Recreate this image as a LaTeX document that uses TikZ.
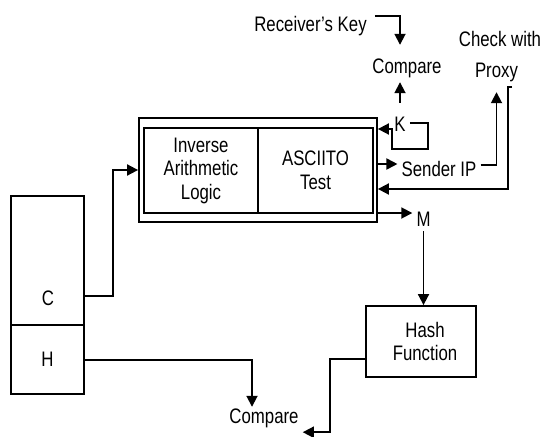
\documentclass[tikz,border=0pt]{standalone}
\usepackage{fontspec}
\setmainfont{Liberation Sans}[FakeStretch=0.8]
\usepackage{tikz}
\usetikzlibrary{arrows.meta}
\definecolor{ink}{HTML}{000000}
\tikzset{
  base/.style={draw=ink, line width=1.8pt},
  arr/.style={base, -{Triangle[length=11pt,width=11pt]}},
  blk/.style={base, rectangle, inner sep=0pt, align=center, text=ink, font=\fontsize{21}{23.5}\selectfont},
  lab/.style={text=ink, inner xsep=4pt, inner ysep=0.5pt, text height=15.5pt, text depth=4.5pt, font=\fontsize{21}{23.5}\selectfont},
}

\begin{document}
\begin{tikzpicture}[x=1pt, y=-1pt]
\useasboundingbox (0,0) rectangle (545,436);

% received blocks
\node[blk, minimum width=73pt, minimum height=129pt] (cbox) at (47.5,260.5) {};
\node[blk, minimum width=73pt, minimum height=69pt] (hbox) at (47.5,359.5) {H};
\node[lab] (clab) at (48,299.5) {C};

% decryption unit
\node[blk, minimum width=238pt, minimum height=104pt] (outer) at (258,170) {};
\node[blk, minimum width=114pt, minimum height=85pt] (ial) at (201,170.5) {Inverse\\Arithmetic\\Logic};
\node[blk, minimum width=115pt, minimum height=85pt] (asc) at (315.5,170.5) {ASCIITO\\Test};
\node[blk, minimum width=110pt, minimum height=71pt] (hash) at (421,341.5) {\hspace{8pt}Hash\\\hspace{8pt}Function};

% labels
\node[lab] (rkey) at (310.5,26.5) {Receiver’s Key};
\node[lab] (cmptop) at (407,68.5) {Compare};
\node[lab] (chk) at (500,41.5) {Check with};
\node[lab] (prox) at (496.5,71.5) {Proxy};
\node[lab] (K) at (400,125.5) {K};
\node[lab] (sip) at (439,170.5) {Sender IP};
\node[lab] (M) at (423.5,220.5) {M};
\node[lab] (cmpbot) at (264,417.5) {Compare};

% C and H
\draw[arr] (cbox.east |- 0,296) -- ++(28,0) |- (outer.west);
\draw[arr] (hbox.east |- 0,360) -| ([xshift=-12pt]cmpbot.north);
\draw[arr] (hash.west |- 0,359) -- ++(-35,0) |- ([yshift=-4pt]cmpbot.south east);

% key
\draw[arr] (K.east |- 0,123) -- ++(18,0) |- ++(-36,26) -- ++(0,-20) -- (outer.east |- 0,129);
\draw[arr, shorten <=12pt, shorten >=3pt] (K.north) -- (K.north |- cmptop.south);
\draw[arr, shorten <=4pt, shorten >=13pt] (rkey.north east) -| (K.north |- cmptop.north);

% sender IP and proxy
\draw[arr] (outer.east |- 0,164) -- (sip.west |- 0,164);
\draw[arr, shorten >=10pt] (sip.east |- 0,165) -| (prox.south);
\coordinate (pxo) at (512,87);
\draw[arr] (pxo) -- ++(-4,0) |- (outer.east |- 0,189);

% message
\draw[arr] (outer.east |- 0,213) -- (M.west |- 0,213);
\draw[arr] (M.south) -- (M.south |- hash.north);
\end{tikzpicture}
\end{document}
